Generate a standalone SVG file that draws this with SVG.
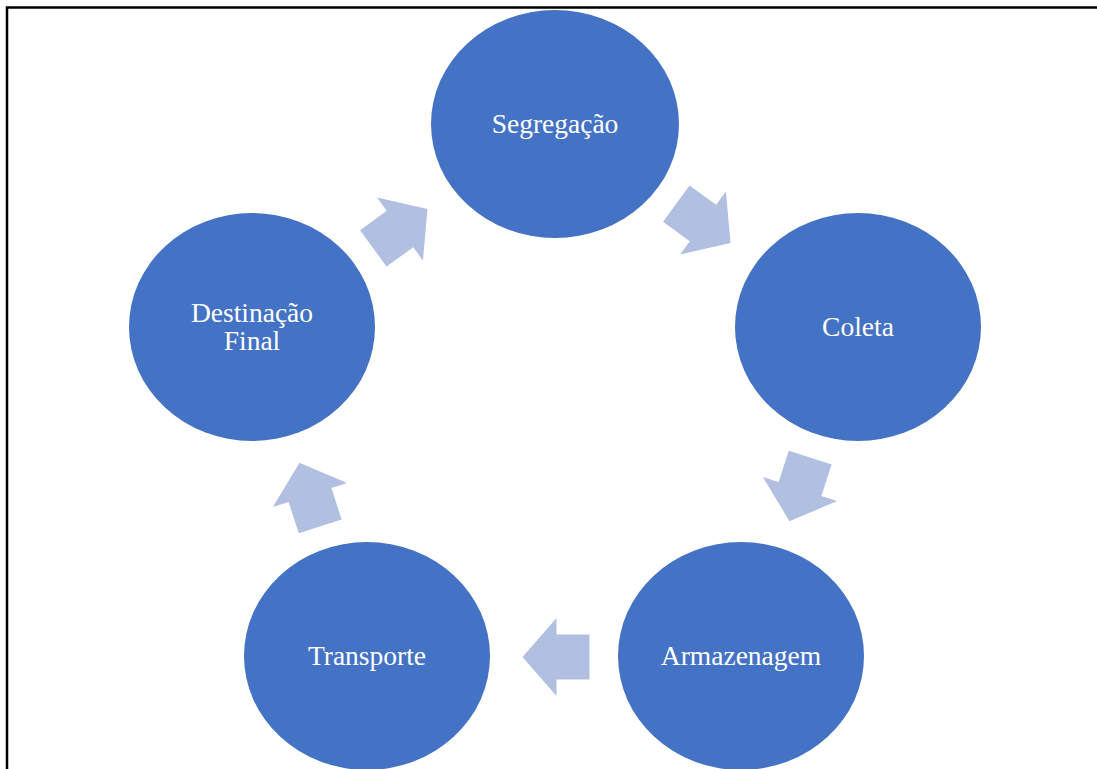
<svg xmlns="http://www.w3.org/2000/svg" width="1097" height="769" viewBox="0 0 1097 769">
  <style>
    .node { fill: #4472C4; }
    .label { fill: #FFFFFF; font-family: "Liberation Serif", "Times New Roman", serif; font-size: 27.5px; text-anchor: middle; }
    .flow { fill: #B1BFE0; }
    .frame { stroke: #000000; stroke-width: 2.5; fill: none; }
  </style>
  <defs>
    <!-- block arrow pointing along +x, centred on the origin -->
    <polygon id="cycle-arrow" points="-33,-22.5 0,-22.5 0,-39 34,0 0,39 0,22.5 -33,22.5"/>
  </defs>

  <rect width="1097" height="769" fill="#FFFFFF"/>
  <path class="frame" d="M7,769 V7.5 H1097"/>

  <g id="connectors">
    <use href="#cycle-arrow" class="flow" transform="translate(703,223) rotate(36)"/>
    <use href="#cycle-arrow" class="flow" transform="translate(800,489) rotate(108)"/>
    <use href="#cycle-arrow" class="flow" transform="translate(556.5,657) rotate(180)"/>
    <use href="#cycle-arrow" class="flow" transform="translate(310,495) rotate(-108)"/>
    <use href="#cycle-arrow" class="flow" transform="translate(400,229) rotate(-36)"/>
  </g>

  <g id="segregacao">
    <ellipse class="node" cx="555" cy="124" rx="124" ry="114"/>
    <text class="label" x="555" y="133">Segregação</text>
  </g>
  <g id="coleta">
    <ellipse class="node" cx="858" cy="327" rx="123" ry="114"/>
    <text class="label" x="858" y="336">Coleta</text>
  </g>
  <g id="armazenagem">
    <ellipse class="node" cx="741" cy="656" rx="123" ry="114"/>
    <text class="label" x="741" y="665">Armazenagem</text>
  </g>
  <g id="transporte">
    <ellipse class="node" cx="367" cy="656" rx="123" ry="114"/>
    <text class="label" x="367" y="665">Transporte</text>
  </g>
  <g id="destinacao-final">
    <ellipse class="node" cx="252" cy="327" rx="123" ry="114"/>
    <text class="label" x="252" y="322">Destinação</text>
    <text class="label" x="252" y="350">Final</text>
  </g>
</svg>
